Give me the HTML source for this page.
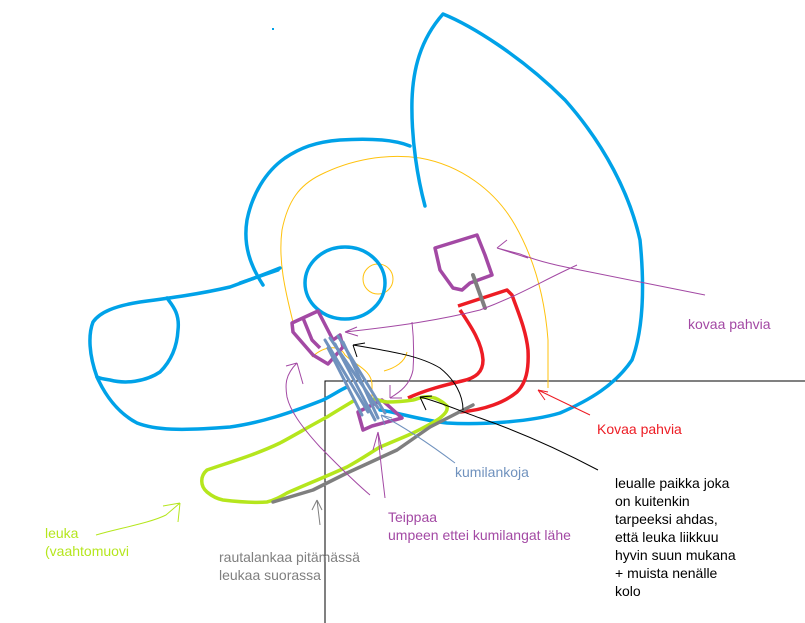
<!DOCTYPE html>
<html><head><meta charset="utf-8"><style>
html,body{margin:0;padding:0;background:#fff;}
svg{display:block;}
text{font-family:"Liberation Sans",Arial,sans-serif;font-size:14px;}
</style></head><body>
<svg width="805" height="623" viewBox="0 0 805 623" xmlns="http://www.w3.org/2000/svg">
<rect width="805" height="623" fill="#fff"/>
<path d="M325,623 L325,381 L805,381" fill="none" stroke="#000" stroke-width="1"/>
<g fill="none" stroke="#ffc20e" stroke-width="1">
<path d="M293,322 C285,290 278,260 282,230 C288,200 300,185 320,175 C350,160 385,153 420,158 C460,165 495,190 515,225 C535,260 545,300 548,340 L548,388"/>
<circle cx="378" cy="279" r="15"/>
<path d="M312,357 C325,345 340,345 345,355 C355,365 372,370 372,385 L372,398"/>
<path d="M384,371 C395,368 405,362 407,352"/>
</g>
<g fill="none" stroke="#00a2e8" stroke-width="3.5" stroke-linecap="round" stroke-linejoin="round">
<path d="M425,206 C418,180 411,140 412,100 C413,70 420,40 443,14 C470,25 520,55 565,100 C605,145 630,195 640,240 C645,290 643,330 632,360 C615,385 590,400 560,413 C530,422 480,425 447,423 C420,420 400,413 380,410"/>
<path d="M410,146 C395,140 370,138 340,140 C315,142 300,148 285,158 C265,172 252,195 247,220 C243,245 250,265 263,285"/>
<path d="M240,283 L278,270"/>
<ellipse cx="345" cy="283" rx="40" ry="36"/>
<path d="M280,268 C270,272 250,280 230,287 C200,294 170,298 140,302 C115,306 100,312 93,322 C88,335 89,355 97,377 C105,395 118,413 137,423 C155,430 180,431 230,427 C260,423 290,413 323,400 C333,395 340,390 347,387"/>
<path d="M167,298 C172,305 180,313 178,330 C177,348 170,362 160,372 C145,382 125,384 110,380 C103,379 99,378 97,377"/>
</g>
<path d="M458,306 L507,290 L512,295 C518,312 526,330 528,350 C529,370 526,383 517,392 C505,402 485,410 460,412 M460,310 C470,325 482,342 483,360 C483,372 476,378 462,381 C445,385 425,390 408,398" fill="none" stroke="#ed1c24" stroke-width="3.5" stroke-linejoin="round"/>
<g fill="none" stroke="#a349a4" stroke-width="3.5" stroke-linejoin="round">
<path d="M435,248 L477,235 L485,255 L492,275 L470,283 L462,290 L453,288 L440,270 Z"/>
<path d="M292,323 L318,311 L333,340 L340,335 L343,347 L328,364 L313,355 L293,332 Z M303,318 L312,340 L320,348"/>
<path d="M358,412 L382,400 L402,418 L372,426 L363,430 Z"/>
</g>
<path d="M473,275 L485,308" stroke="#7f7f7f" stroke-width="4" stroke-linecap="round"/>
<path d="M355,400 C345,406 335,412 327,417 C310,426 295,435 280,443 C255,455 230,462 207,470 C200,476 200,486 207,492 C213,497 218,499 223,500 C240,502 255,503 267,502 C275,500 280,497 287,493 C305,485 325,477 347,467 C360,460 370,453 380,447 C392,442 402,438 413,433 C425,427 433,423 440,418 C446,413 448,410 447,406 C443,402 438,398 430,397 C422,396 418,399 413,400 C400,402 393,402 387,402 C380,401 375,399 373,398" fill="none" stroke="#b5e61d" stroke-width="3.5" stroke-linejoin="round"/>
<path d="M273,502 L313,490 L347,473 L397,450 L430,427 L473,405" fill="none" stroke="#7f7f7f" stroke-width="3.5" stroke-linecap="round" stroke-linejoin="round"/>
<g stroke="#7092be" stroke-width="3" fill="none" stroke-linecap="round">
<path d="M325,340 L368,412"/><path d="M330,338 L378,408"/><path d="M335,344 L375,420"/><path d="M338,336 L385,413"/><path d="M328,348 L362,415"/><path d="M343,342 L378,418"/>
</g>
<g fill="none" stroke-width="1">
<g stroke="#a349a4">
<path d="M705,295 L640,282 L580,270 C560,266 540,262 520,254 L497,248 M497,248 L507,240 M497,248 L528,258"/>
<path d="M577,265 C540,282 520,295 480,310 C440,320 400,326 345,332 M345,332 L357,327 M345,332 L358,336"/>
<path d="M412,322 C414,340 414,355 413,370 C410,385 400,392 390,398 M390,398 L390,385 M390,398 L402,398"/>
<path d="M370,495 C350,478 335,462 320,447 C300,425 290,410 287,397 C285,385 285,375 297,363 M297,363 L286,366 M297,363 L303,384"/>
<path d="M385,498 C383,480 380,460 378,432 M378,432 L373,450 M378,432 L382,450"/>
</g>
<path d="M590,415 L538,390 M538,390 L545,400 M538,390 L548,392" stroke="#ed1c24"/>
<g stroke="#000">
<path d="M598,470 C560,450 520,432 480,418 C460,411 440,402 420,397 M420,397 L432,396 M420,397 L426,410"/>
<path d="M463,410 C463,395 455,380 440,368 C420,356 395,352 353,345 M353,345 L365,343 M353,345 L357,357"/>
</g>
<path d="M455,463 C435,448 410,430 381,415 M381,415 L385,425 M381,415 L392,418" stroke="#7092be"/>
<path d="M320,525 L317,500 M317,500 L312,510 M317,500 L322,510" stroke="#7f7f7f"/>
<path d="M96,535 C120,528 150,523 166,515 L180,503 M180,503 L163,506 M180,503 L178,522" stroke="#b5e61d"/>
</g>
<text x="688" y="329" fill="#a349a4">kovaa pahvia</text>
<text x="597" y="434" fill="#ed1c24">Kovaa pahvia</text>
<text x="455" y="477" fill="#7092be">kumilankoja</text>
<g fill="#000" style="font-size:13.5px">
<text x="615" y="488">leualle paikka joka</text>
<text x="615" y="506">on kuitenkin</text>
<text x="615" y="524">tarpeeksi ahdas,</text>
<text x="615" y="542">että leuka liikkuu</text>
<text x="615" y="560">hyvin suun mukana</text>
<text x="615" y="578">+ muista nenälle</text>
<text x="615" y="596">kolo</text>
</g>
<text x="388" y="522" fill="#a349a4">Teippaa</text>
<text x="388" y="540" fill="#a349a4">umpeen ettei kumilangat lähe</text>
<text x="45" y="538" fill="#b5e61d">leuka</text>
<text x="45" y="556" fill="#b5e61d">(vaahtomuovi</text>
<text x="219" y="562" fill="#7f7f7f">rautalankaa pitämässä</text>
<text x="219" y="580" fill="#7f7f7f">leukaa suorassa</text>
<rect x="272" y="28" width="2" height="2" fill="#00a2e8"/>
</svg>
</body></html>
